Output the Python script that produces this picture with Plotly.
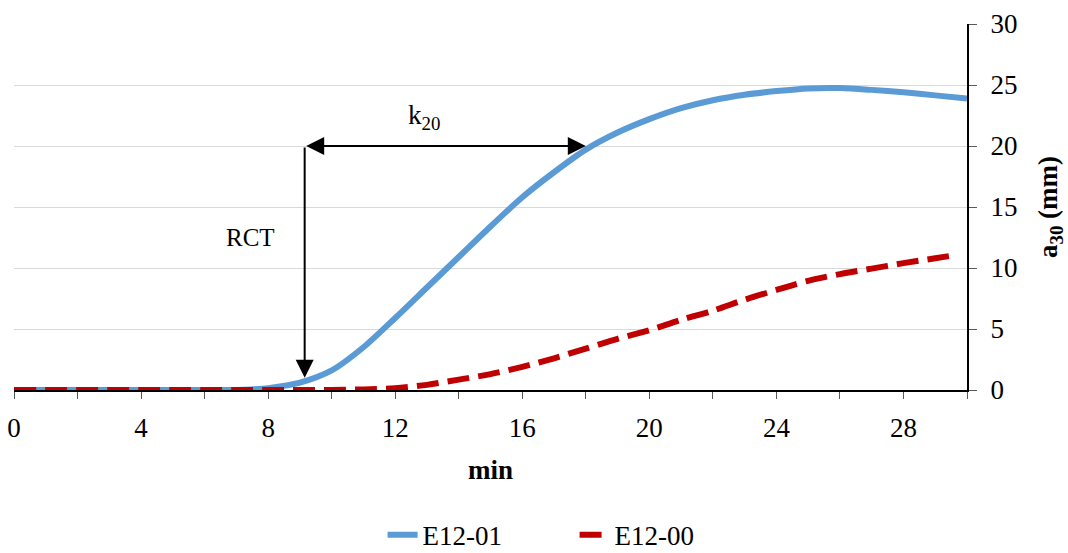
import plotly.graph_objects as go

# Data
x_blue = [0, 1, 2, 3, 4, 5, 6, 7, 7.5, 8, 9, 10, 11, 12, 13, 14, 15, 16, 17, 18,
          19, 20, 21, 22, 23, 24, 25, 26, 27, 28, 29, 30]
y_blue = [0, 0, 0, 0, 0, 0, 0, 0, 0.05, 0.15, 0.6, 1.6, 3.5, 5.9, 8.4, 10.9, 13.4,
          15.8, 17.85, 19.7, 21.1, 22.2, 23.1, 23.75, 24.2, 24.5, 24.72, 24.75, 24.6,
          24.4, 24.15, 23.9]

x_red = [0, 1, 2, 3, 4, 5, 6, 7, 8, 9, 10, 11, 12, 13, 14, 15, 16, 17, 18, 19, 20,
         21, 22, 23, 24, 25, 26, 27, 28, 29, 29.5]
y_red = [0, 0, 0, 0, 0, 0, 0, 0, 0, 0, 0, 0.05, 0.15, 0.42, 0.85, 1.3, 1.9, 2.6, 3.4,
         4.2, 4.9, 5.75, 6.5, 7.4, 8.2, 8.95, 9.5, 9.95, 10.4, 10.8, 11.0]

series_names = ["E12-01", "E12-00"]
x_ticks = [0, 4, 8, 12, 16, 20, 24, 28]
y_ticks = [0, 5, 10, 15, 20, 25, 30]

# annotation positions (data units)
rct_x = 9.15
k20_end = 18.0
arrow_y = 20.0
rct_tip_y = 1.0

FONT = "Liberation Serif"

fig = go.Figure()
fig.add_trace(go.Scatter(x=x_blue, y=y_blue, mode="lines", name=series_names[0],
                         line=dict(color="#5B9BD5", width=6, shape="spline", smoothing=0.8)))
fig.add_trace(go.Scatter(x=x_red, y=y_red, mode="lines", name=series_names[1],
                         line=dict(color="#C00000", width=6, dash="22px,9px", shape="spline", smoothing=0.8)))

# RCT vertical arrow
fig.add_annotation(x=rct_x, y=rct_tip_y, ax=rct_x, ay=arrow_y, xref="x", yref="y",
                   axref="x", ayref="y", showarrow=True, arrowhead=2, arrowsize=1.8,
                   arrowwidth=2, arrowcolor="black", text="")
# k20 double arrow
fig.add_annotation(x=k20_end, y=arrow_y, ax=rct_x, ay=arrow_y, xref="x", yref="y",
                   axref="x", ayref="y", showarrow=True, arrowhead=2, startarrowhead=2,
                   arrowside="end+start", arrowsize=1.8, startarrowsize=1.8,
                   arrowwidth=2, arrowcolor="black", text="")
fig.add_annotation(x=7.45, y=12.5, xref="x", yref="y", text="RCT", showarrow=False,
                   font=dict(family=FONT, size=25, color="black"))
fig.add_annotation(x=12.9, y=22.4, xref="x", yref="y", text="k<sub>20</sub>", showarrow=False,
                   font=dict(family=FONT, size=27, color="black"))

fig.update_layout(
    width=1068, height=553,
    margin=dict(l=14, r=101, t=24, b=163),
    paper_bgcolor="white", plot_bgcolor="white",
    font=dict(family=FONT, size=27, color="black"),
    showlegend=True,
    legend=dict(orientation="h", x=0.538, xref="container", xanchor="center",
                y=0.032, yref="container", yanchor="middle", entrywidth=147,
                entrywidthmode="pixels",
                font=dict(family=FONT, size=27, color="black"),
                bgcolor="rgba(0,0,0,0)"),
)
fig.update_xaxes(range=[0, 30], tickvals=x_ticks, ticks="outside", ticklen=7,
                 tickcolor="#595959", tickwidth=1, automargin=False, ticklabelstandoff=6,
                 minor=dict(dtick=2, tick0=0, ticks="outside", ticklen=7, tickcolor="#595959", showgrid=False),
                 showgrid=False, zeroline=False, showline=True, linecolor="black", linewidth=2,
                 title=dict(text="<b>min</b>", standoff=18, font=dict(family=FONT, size=27)),
                 tickfont=dict(family=FONT, size=27))
fig.update_yaxes(range=[0, 30], tickvals=y_ticks, side="right", ticks="outside", ticklen=8,
                 tickcolor="#595959", showgrid=True, gridcolor="#D9D9D9", gridwidth=1,
                 automargin=False, ticklabelstandoff=8,
                 zeroline=False, showline=True, linecolor="black", linewidth=2,
                 title=dict(text="<b>a<sub>30</sub> (mm)</b>", standoff=22, font=dict(family=FONT, size=27)),
                 tickfont=dict(family=FONT, size=27))

fig.write_html("out.html")
